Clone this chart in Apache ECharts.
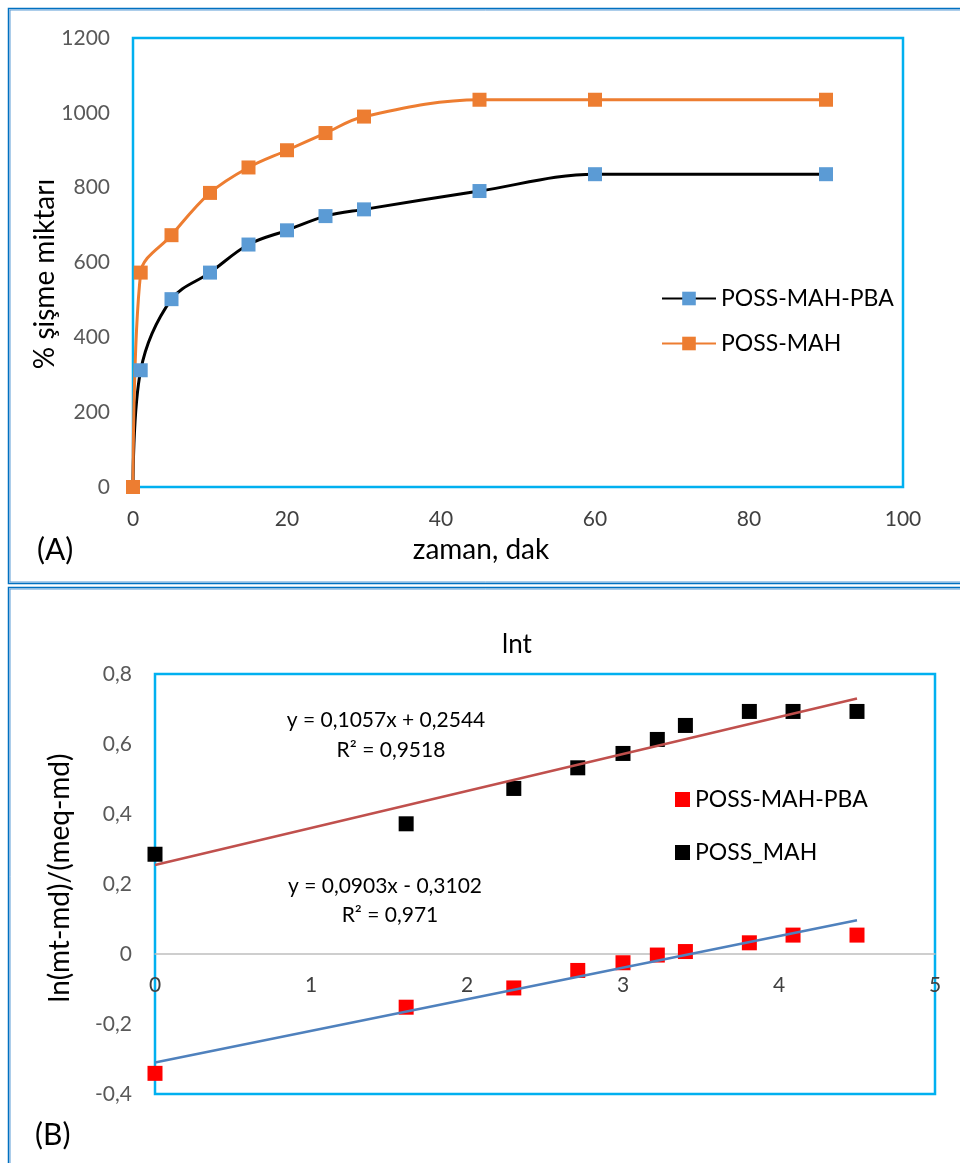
<!DOCTYPE html>
<html>
<head>
<meta charset="utf-8">
<script src="https://cdn.jsdelivr.net/npm/echarts@6/dist/echarts.min.js"></script>
<style>
html,body{margin:0;padding:0;background:#fff;}
#chart{width:960px;height:1163px;}
</style>
</head>
<body>
<div id="chart"></div>
<script>
// ---- Panel A data ----
const timeMin = [0, 1, 5, 10, 15, 20, 25, 30, 45, 60, 90];
const swellPBA = [0, 312, 502, 573, 648, 686, 724, 742, 791, 836, 836];
const swellMAH = [0, 573, 673, 786, 854, 900, 946, 990, 1035, 1035, 1035];
const axisA_x = [0, 100, 20];
const axisA_y = [0, 1200, 200];

// ---- Panel B data ----
const lnT = [0, 1.61, 2.30, 2.71, 3.00, 3.22, 3.40, 3.81, 4.09, 4.50];
const lnPBA = [-0.341, -0.152, -0.097, -0.047, -0.025, -0.003, 0.007, 0.032, 0.054, 0.054];
const lnMAH = [0.285, 0.372, 0.473, 0.532, 0.573, 0.613, 0.653, 0.693, 0.693, 0.693];
const trendPBA = [0.0903, -0.3102];
const trendMAH = [0.1057, 0.2544];
const trendRange = [0, 4.5];
const axisB_x = [0, 5, 1];
const axisB_y = [-0.4, 0.8, 0.2];

const seriesNamesA = ['POSS-MAH-PBA', 'POSS-MAH'];
const seriesNamesB = ['POSS-MAH-PBA ', 'POSS_MAH'];

const FONT = 'Lato, "Open Sans", sans-serif';

const zip = (xs, ys) => xs.map((x, i) => [x, ys[i]]);
const trendPts = (c) => trendRange.map(x => [x, c[0] * x + c[1]]);
const fmtComma = (v) => {
  const r = Math.round(v * 10) / 10;
  return String(r).replace('.', ',');
};

const chart = echarts.init(document.getElementById('chart'), null, {renderer: 'canvas'});

const option = {
  backgroundColor: '#ffffff',
  animation: false,
  textStyle: {fontFamily: FONT},
  grid: [
    {left: 133, top: 38, width: 770, height: 449, show: true, borderColor: '#00b0f0', borderWidth: 2.5, backgroundColor: 'transparent'},
    {left: 155, top: 674, width: 780, height: 420, show: true, borderColor: '#00b0f0', borderWidth: 2.5, backgroundColor: 'transparent'}
  ],
  xAxis: [
    {
      gridIndex: 0, type: 'value', min: axisA_x[0], max: axisA_x[1], interval: axisA_x[2],
      axisLine: {show: false}, axisTick: {show: false}, splitLine: {show: false},
      axisLabel: {color: '#404040', fontSize: 21, fontFamily: FONT, margin: 22, formatter: (v) => String(v)}
    },
    {
      gridIndex: 1, type: 'value', min: axisB_x[0], max: axisB_x[1], interval: axisB_x[2],
      offset: -140,
      axisLine: {show: true, onZero: false, lineStyle: {color: '#bfbfbf', width: 1.5}},
      axisTick: {show: false}, splitLine: {show: false},
      axisLabel: {color: '#404040', fontSize: 21, fontFamily: FONT, margin: 21, formatter: (v) => String(v)}
    }
  ],
  yAxis: [
    {
      gridIndex: 0, type: 'value', min: axisA_y[0], max: axisA_y[1], interval: axisA_y[2],
      axisLine: {show: false}, axisTick: {show: false}, splitLine: {show: false},
      axisLabel: {color: '#595959', fontSize: 21, fontFamily: FONT, margin: 23, formatter: (v) => String(v)}
    },
    {
      gridIndex: 1, type: 'value', min: axisB_y[0], max: axisB_y[1], interval: axisB_y[2],
      axisLine: {show: false}, axisTick: {show: false}, splitLine: {show: false},
      axisLabel: {color: '#595959', fontSize: 21, fontFamily: FONT, margin: 23, formatter: fmtComma}
    }
  ],
  legend: [
    {
      data: seriesNamesA, orient: 'vertical', left: 656, top: 282,
      itemWidth: 54, itemHeight: 17, itemGap: 22,
      textStyle: {color: '#000', fontSize: 23, fontFamily: FONT}
    },
    {
      data: seriesNamesB, orient: 'vertical', left: 670, top: 783,
      itemWidth: 15, itemHeight: 15, itemGap: 30,
      formatter: (n) => n.trim(),
      textStyle: {color: '#000', fontSize: 23, fontFamily: FONT}
    }
  ],
  series: [
    {
      name: seriesNamesA[0], type: 'line', xAxisIndex: 0, yAxisIndex: 0,
      data: zip(timeMin, swellPBA), smooth: 0.35,
      symbol: 'rect', symbolSize: 14,
      lineStyle: {color: '#000000', width: 3},
      itemStyle: {color: '#5b9bd5', opacity: 1}
    },
    {
      name: seriesNamesA[1], type: 'line', xAxisIndex: 0, yAxisIndex: 0,
      data: zip(timeMin, swellMAH), smooth: 0.35,
      symbol: 'rect', symbolSize: 14,
      lineStyle: {color: '#ed7d31', width: 3},
      itemStyle: {color: '#ed7d31', opacity: 1}
    },
    {
      name: 'trendPBA', type: 'line', xAxisIndex: 1, yAxisIndex: 1,
      data: trendPts(trendPBA), symbol: 'none', silent: true,
      lineStyle: {color: '#4f81bd', width: 2.5}
    },
    {
      name: 'trendMAH', type: 'line', xAxisIndex: 1, yAxisIndex: 1,
      data: trendPts(trendMAH), symbol: 'none', silent: true,
      lineStyle: {color: '#c0504d', width: 2.5}
    },
    {
      name: seriesNamesB[0], type: 'scatter', xAxisIndex: 1, yAxisIndex: 1,
      data: zip(lnT, lnPBA), symbol: 'rect', symbolSize: 15,
      itemStyle: {color: '#ff0000', opacity: 1}
    },
    {
      name: seriesNamesB[1], type: 'scatter', xAxisIndex: 1, yAxisIndex: 1,
      data: zip(lnT, lnMAH), symbol: 'rect', symbolSize: 15,
      itemStyle: {color: '#000000', opacity: 1}
    }
  ],
  graphic: [
    // panel frames
    {type: 'rect', shape: {x: 8.5, y: 8.5, width: 1000, height: 575}, style: {fill: 'none', stroke: '#0070c0', lineWidth: 1.5}, z: 0},
    {type: 'rect', shape: {x: 10, y: 10, width: 1000, height: 572}, style: {fill: 'none', stroke: '#5b9bd5', lineWidth: 1}, z: 0},
    {type: 'rect', shape: {x: 8.5, y: 587.5, width: 1000, height: 700}, style: {fill: 'none', stroke: '#0070c0', lineWidth: 1.5}, z: 0},
    {type: 'rect', shape: {x: 10, y: 589, width: 1000, height: 700}, style: {fill: 'none', stroke: '#5b9bd5', lineWidth: 1}, z: 0},
    // panel A texts
    {type: 'text', x: 45, y: 274, rotation: Math.PI / 2,
      style: {text: '% şişme miktarı', fontSize: 28, fontFamily: FONT, fill: '#000', align: 'center', verticalAlign: 'middle'}},
    {type: 'text', x: 481, y: 550,
      style: {text: 'zaman, dak', fontSize: 28, fontFamily: FONT, fill: '#000', align: 'center', verticalAlign: 'middle'}},
    {type: 'text', x: 37, y: 550,
      style: {text: '(A)', fontSize: 30, fontFamily: FONT, fill: '#000', align: 'left', verticalAlign: 'middle'}},
    // panel B texts
    {type: 'text', x: 517, y: 645,
      style: {text: 'lnt', fontSize: 26, fontFamily: FONT, fill: '#000', align: 'center', verticalAlign: 'middle'}},
    {type: 'text', x: 60, y: 878, rotation: Math.PI / 2,
      style: {text: 'ln(mt-md)/(meq-md)', fontSize: 28, fontFamily: FONT, fill: '#000', align: 'center', verticalAlign: 'middle'}},
    {type: 'text', x: 35, y: 1135,
      style: {text: '(B)', fontSize: 30, fontFamily: FONT, fill: '#000', align: 'left', verticalAlign: 'middle'}},
    {type: 'text', x: 386, y: 720,
      style: {text: 'y = 0,1057x + 0,2544', fontSize: 21, fontFamily: FONT, fill: '#000', align: 'center', verticalAlign: 'middle'}},
    {type: 'text', x: 391, y: 750,
      style: {text: 'R² = 0,9518', fontSize: 21, fontFamily: FONT, fill: '#000', align: 'center', verticalAlign: 'middle'}},
    {type: 'text', x: 385, y: 886,
      style: {text: 'y = 0,0903x - 0,3102', fontSize: 21, fontFamily: FONT, fill: '#000', align: 'center', verticalAlign: 'middle'}},
    {type: 'text', x: 390, y: 915,
      style: {text: 'R² = 0,971', fontSize: 21, fontFamily: FONT, fill: '#000', align: 'center', verticalAlign: 'middle'}}
  ]
};

chart.setOption(option);
</script>
</body>
</html>
